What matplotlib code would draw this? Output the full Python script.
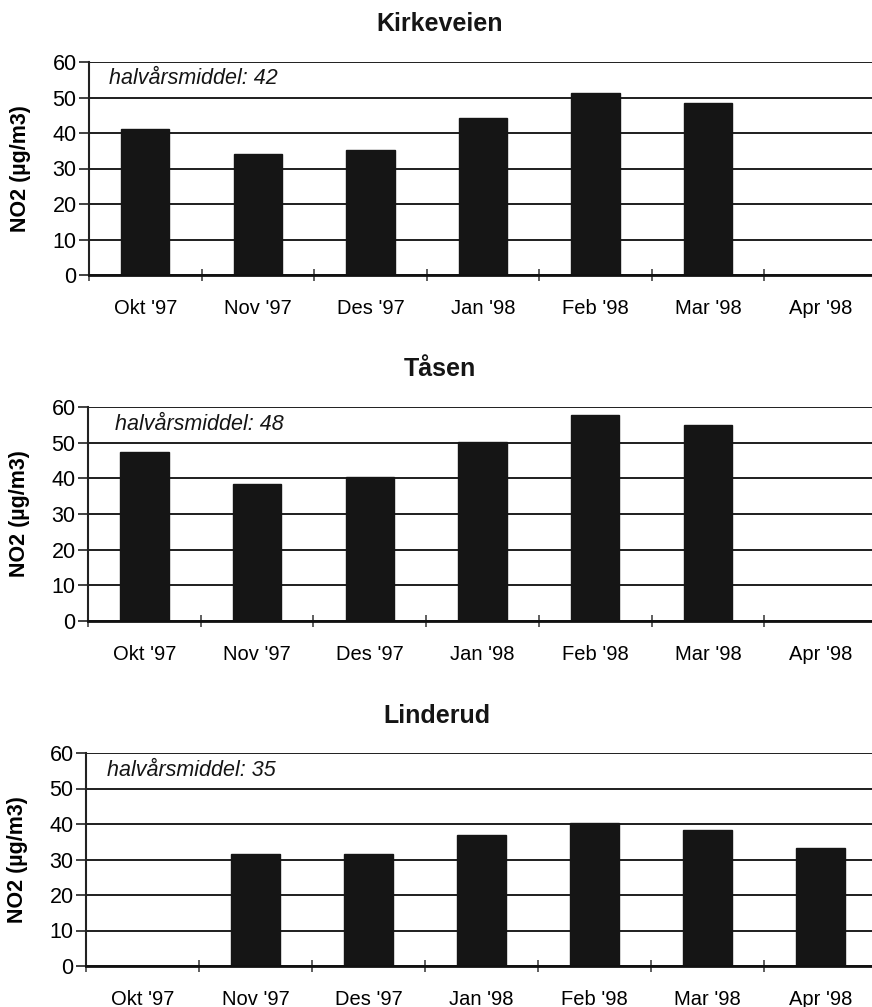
import numpy as np
import matplotlib
matplotlib.use("Agg")
import matplotlib.pyplot as plt

plt.rcParams['font.family'] = ['Liberation Sans', 'DejaVu Sans']

months = ["Okt '97", "Nov '97", "Des '97", "Jan '98", "Feb '98", "Mar '98", "Apr '98"]

kirkeveien = [41.0, 34.2, 35.3, 44.3, 51.3, 48.5, np.nan]
taasen = [47.3, 38.3, 40.4, 50.1, 57.8, 55.0, np.nan]
linderud = [np.nan, 31.6, 31.6, 36.8, 40.4, 38.3, 33.2]

stations = ["Kirkeveien", "Tåsen", "Linderud"]
means = [42, 48, 35]
series = [kirkeveien, taasen, linderud]

W, H = 872, 1007
fig = plt.figure(figsize=(W / 100, H / 100), dpi=100)

# pixel geometry for each panel: left, top, bottom, title centre, note offset
panels = [
    dict(left=89, top=62, bottom=275, title_y=24, title_x=440, note_x=20),
    dict(left=88, top=407, bottom=621, title_y=369, title_x=440, note_x=27),
    dict(left=86, top=753, bottom=966, title_y=716, title_x=437, note_x=21),
]
right = 877
ink = '#151515'

for name, mean, vals, p in zip(stations, means, series, panels):
    ax = fig.add_axes([p['left'] / W, 1 - p['bottom'] / H,
                       (right - p['left']) / W, (p['bottom'] - p['top']) / H])
    x = np.arange(len(months))
    ax.bar(x, vals, width=0.43, color=ink, edgecolor=ink, zorder=3)

    ax.set_xlim(-0.5, len(months) - 0.5)
    ax.set_ylim(0, 60)
    ax.set_yticks(np.arange(0, 61, 10))
    ax.set_xticks(x)
    ax.set_xticklabels(months, fontsize=14.5)
    ax.set_xticks(np.arange(-0.5, len(months), 1), minor=True)
    ax.tick_params(axis='x', which='major', length=0, pad=17)
    ax.tick_params(axis='x', which='minor', direction='inout', length=9,
                   width=1.2, color='#444')
    ax.tick_params(axis='y', labelsize=15.5, length=7, width=1.3, pad=2,
                   color='#333')

    ax.grid(axis='y', color='#1e1e1e', linewidth=1.4, zorder=1)
    ax.spines['right'].set_visible(False)
    ax.spines['top'].set_visible(False)
    ax.spines['left'].set_color('#222')
    ax.spines['left'].set_linewidth(1.5)
    ax.spines['bottom'].set_color('#111')
    ax.spines['bottom'].set_linewidth(2.0)
    ax.spines['bottom'].set_zorder(4)

    ax.set_ylabel("NO2 (µg/m3)", fontsize=15.5, fontweight='bold')
    ax.yaxis.set_label_coords(-0.073, 0.5)

    ax.text(p['note_x'] / (right - p['left']), 1 - 17 / (p['bottom'] - p['top']),
            f"halvårsmiddel: {mean}", transform=ax.transAxes, fontsize=15.5,
            style='italic', ha='left', va='center', color=ink)

    fig.text(p['title_x'] / W, 1 - p['title_y'] / H, name, fontsize=18,
             fontweight='bold', ha='center', va='center', color=ink)

fig.savefig("out.png", dpi=100)
